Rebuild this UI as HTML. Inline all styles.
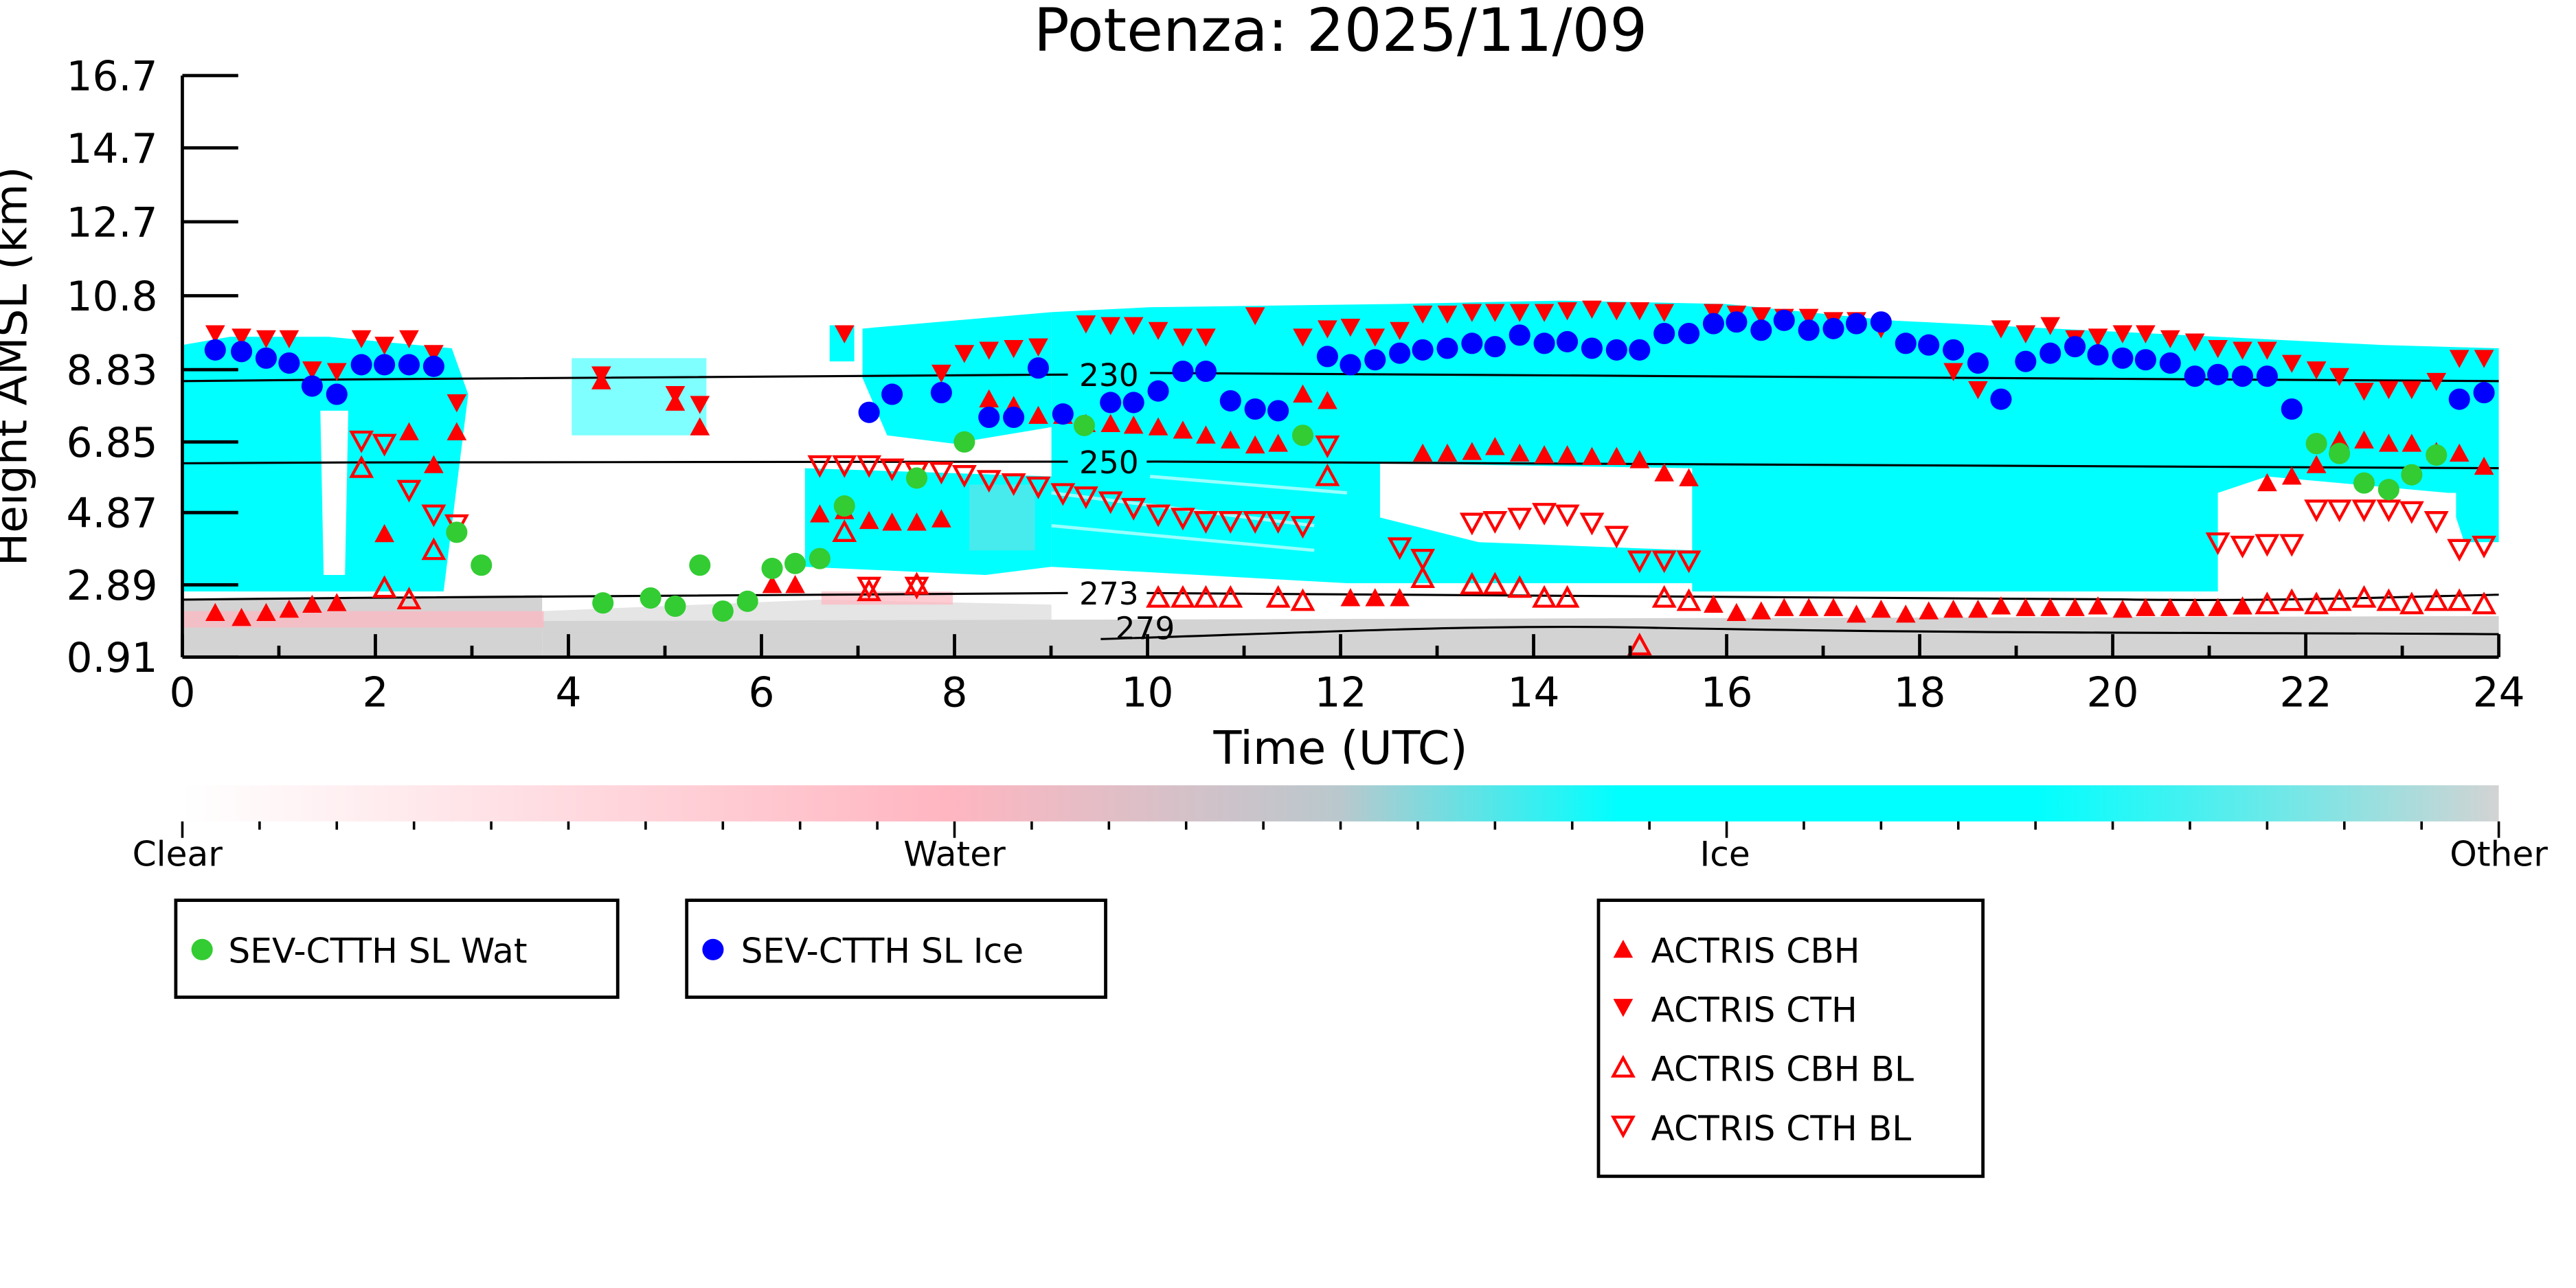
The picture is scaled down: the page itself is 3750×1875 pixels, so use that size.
<!DOCTYPE html>
<html><head><meta charset="utf-8"><style>
html,body{margin:0;padding:0;background:#fff;}
svg{display:block;}
text{font-family:"DejaVu Sans","Liberation Sans",sans-serif;}
</style></head><body>
<svg id="s" width="3750" height="1875" viewBox="0 0 1568 784" xmlns="http://www.w3.org/2000/svg">
<defs>
<linearGradient id="cb" x1="0" x2="1" y1="0" y2="0">
<stop offset="0" stop-color="#ffffff"/>
<stop offset="0.33" stop-color="#ffb6c1"/>
<stop offset="0.5" stop-color="#b9c8cd"/>
<stop offset="0.62" stop-color="#00ffff"/>
<stop offset="0.8" stop-color="#00ffff"/>
<stop offset="1" stop-color="#d3d3d3"/>
</linearGradient>
</defs>
<rect width="1568" height="784" fill="#fff"/>
<text x="816" y="31" font-size="36" text-anchor="middle">Potenza: 2025/11/09</text>
<g fill="#00ffff">
<polygon points="111,210 140,205 200,205 275,212 285,240 280,280 270,360 111,360"/>
<polygon points="490,285 640,290 640,345 600,350 490,345"/>
<polygon points="505,198 520,198 520,220 505,220"/>
<polygon points="525,200 640,190 640,260 580,270 540,265 525,230"/>
<polygon points="640,190 700,187 850,185 950,183 1050,185 1150,195 1250,200 1350,205 1450,210 1521,212 1521,330 1500,330 1490,300 1380,290 1350,300 1350,360 1030,360 1030,355 820,355 640,345"/>
<polygon points="348,218 430,218 430,265 348,265" opacity="0.5"/>
</g>
<g fill="#fff">
<polygon points="195,250 212,250 210,350 197,350"/>
<polygon points="840,282 1030,285 1030,335 900,330 840,315"/>
<polygon points="1360,300 1495,300 1495,322 1360,322"/>
</g>
<g stroke="#fff" stroke-width="2" opacity="0.6">
<line x1="640" y1="300" x2="800" y2="320"/>
<line x1="640" y1="320" x2="800" y2="335"/>
<line x1="700" y1="290" x2="820" y2="300"/>
</g>
<g fill="#d3d3d3">
<polygon points="111,365 330,362 330,400 111,400"/>
<polygon points="330,378 1521,375 1521,400 330,400"/>
<polygon points="330,372 500,365 640,368 640,385 330,385" opacity="0.6"/>
</g>
<g fill="#ffb6c1" opacity="0.7">
<rect x="111" y="372" width="220" height="10"/>
<rect x="500" y="360" width="80" height="8"/>
<rect x="590" y="295" width="40" height="40" opacity="0.4"/>
</g>
<g fill="none" stroke="#000" stroke-width="1.3">
<path d="M111,232 C300,230 500,228 650,228 M700,227 C900,226 1200,228 1521,232"/>
<path d="M111,282 C300,281 500,280 650,281 M698,281 C900,280 1100,283 1521,285"/>
<path d="M111,365 C300,363 500,361 650,361 M698,361 C900,361 1100,362 1300,365 C1400,366 1470,363 1521,362"/>
<path d="M670,389 C800,385 900,380 1000,382 C1200,386 1400,385 1521,386"/>
</g>
<g font-size="19" text-anchor="middle">
<text x="675" y="235">230</text>
<text x="675" y="288">250</text>
<text x="675" y="368">273</text>
<text x="697" y="389">279</text>
</g>
<g id="mk"></g>
<g stroke="#000" stroke-width="2" fill="none">
<line x1="111" y1="46" x2="111" y2="400"/>
<line x1="111" y1="400" x2="1521" y2="400"/>
</g>
<g id="ticks" stroke="#000" stroke-width="2"></g>
<g font-size="25" text-anchor="end">
<text x="96" y="55">16.7</text><text x="96" y="99">14.7</text><text x="96" y="144">12.7</text>
<text x="96" y="189">10.8</text><text x="96" y="234">8.83</text><text x="96" y="278">6.85</text>
<text x="96" y="321">4.87</text><text x="96" y="365">2.89</text><text x="96" y="409">0.91</text>
</g>
<g font-size="25" text-anchor="middle" id="xl"></g>
<text x="816" y="465" font-size="28" text-anchor="middle">Time (UTC)</text>
<text transform="translate(16,223) rotate(-90)" font-size="27" text-anchor="middle">Height AMSL (km)</text>
<rect x="111" y="478" width="1410" height="22" fill="url(#cb)"/>
<g id="cbt" stroke="#000" stroke-width="1.5"></g>
<g font-size="21" text-anchor="middle">
<text x="108" y="527">Clear</text><text x="581" y="527">Water</text><text x="1050" y="527">Ice</text><text x="1521" y="527">Other</text>
</g>
<g fill="none" stroke="#000" stroke-width="2">
<rect x="107" y="548" width="269" height="59"/>
<rect x="418" y="548" width="255" height="59"/>
<rect x="973" y="548" width="234" height="168"/>
</g>
<circle cx="123" cy="578" r="6.5" fill="#33cc33"/>
<circle cx="434" cy="578" r="6.5" fill="#0000ff"/>
<g font-size="21">
<text x="139" y="586">SEV-CTTH SL Wat</text>
<text x="451" y="586">SEV-CTTH SL Ice</text>
<text x="1005" y="586">ACTRIS CBH</text>
<text x="1005" y="622">ACTRIS CTH</text>
<text x="1005" y="658">ACTRIS CBH BL</text>
<text x="1005" y="694">ACTRIS CTH BL</text>
</g>
<g id="lg"></g>
</svg>
<script>
var NS="http://www.w3.org/2000/svg",mk=document.getElementById('mk');
function el(p,t,a){var e=document.createElementNS(NS,t);for(var k in a)e.setAttribute(k,a[k]);p.appendChild(e);return e;}
function up(p,x,y,f){el(p,'polygon',{points:(x-6)+','+(y+5)+' '+(x+6)+','+(y+5)+' '+x+','+(y-6),fill:f?'#ff0000':'none',stroke:'#ff0000','stroke-width':f?0:1.8});}
function dn(p,x,y,f){el(p,'polygon',{points:(x-6)+','+(y-5)+' '+(x+6)+','+(y-5)+' '+x+','+(y+6),fill:f?'#ff0000':'none',stroke:'#ff0000','stroke-width':f?0:1.8});}
function P(s){return s.split(' ').map(function(q){return q.split(',').map(Number);});}
var blue=P("131,213 147,214 162,218 176,221 190,235 205,240 220,222 234,222 249,222 264,223 529,251 543,240 573,239 602,254 617,254 632,224 647,252 676,245 690,245 705,238 720,226 734,226 749,244 764,249 778,250 808,217 822,222 837,219 852,215 866,213 881,212 896,209 910,211 925,204 940,209 954,208 969,212 984,213 998,213 1013,203 1028,203 1043,197 1057,196 1072,201 1086,195 1101,201 1116,200 1130,197 1145,196 1160,209 1174,210 1189,213 1204,221 1218,243 1233,220 1248,215 1263,211 1277,216 1292,218 1306,219 1321,221 1336,229 1350,228 1365,229 1380,229 1395,249 1497,243 1512,239");
var green=P("278,324 293,344 367,367 396,364 411,369 426,344 440,372 455,366 470,346 484,343 499,340 514,308 558,291 587,269 660,259 793,265 1410,270 1424,276 1439,294 1454,298 1468,289 1483,277");
var cbh=P("131,373 147,376 162,373 176,371 190,368 205,367 234,325 249,263 264,283 278,263 366,232 411,245 426,260 470,356 484,356 499,313 514,311 529,317 543,318 558,318 573,316 602,243 617,247 632,253 647,253 661,258 676,258 690,259 705,260 720,262 734,265 749,268 764,271 778,270 793,240 808,244 822,364 837,364 852,364 866,276 881,276 896,275 910,272 925,276 940,277 954,277 969,278 984,278 998,280 1013,288 1028,291 1043,368 1057,373 1072,372 1086,370 1101,370 1116,370 1130,374 1145,371 1160,374 1174,372 1189,371 1204,371 1218,369 1233,370 1248,370 1263,370 1277,369 1292,371 1306,370 1321,370 1336,370 1350,370 1365,369 1380,294 1395,290 1410,283 1424,268 1439,268 1454,270 1468,270 1483,275 1497,276 1512,284");
var cth=P("131,203 147,205 162,206 176,206 190,225 205,226 220,206 234,210 249,206 264,215 278,245 366,228 411,240 426,246 514,203 573,227 587,215 602,213 617,212 632,211 661,197 676,198 690,198 705,201 720,205 734,205 764,192 793,205 808,200 822,199 837,205 852,201 866,191 881,191 896,190 910,190 925,190 940,190 954,189 969,188 984,189 998,189 1013,190 1043,190 1057,191 1072,192 1086,193 1101,193 1116,195 1130,195 1145,200 1189,226 1204,237 1218,200 1233,203 1248,198 1263,206 1277,205 1292,203 1306,203 1321,206 1336,208 1350,212 1365,213 1380,213 1395,221 1410,225 1424,229 1439,238 1454,237 1468,237 1483,232 1497,218 1512,218");
var cbhb=P("234,358 249,365 264,335 220,285 514,324 529,360 558,356 866,352 808,290 896,356 910,356 925,358 940,364 954,364 705,364 720,364 734,364 749,364 778,364 793,366 998,393 1013,364 1028,366 1380,368 1395,366 1410,368 1424,366 1439,364 1454,366 1468,368 1483,366 1497,366 1512,368");
var cthb=P("220,268 234,270 249,298 264,313 278,319 499,283 514,283 529,283 543,285 558,287 573,287 587,289 602,292 617,294 632,296 647,300 661,302 676,305 690,309 705,313 720,315 734,317 749,317 764,317 778,317 793,320 808,271 852,333 866,340 896,318 910,317 925,315 940,312 954,313 969,318 984,326 998,341 1013,341 1028,341 1350,330 1365,332 1380,331 1395,331 1410,310 1424,310 1439,310 1454,310 1468,311 1483,317 1497,334 1512,332 529,357 558,357");
cbhb.forEach(function(p){up(mk,p[0],p[1],false);});
cthb.forEach(function(p){dn(mk,p[0],p[1],false);});
cbh.forEach(function(p){up(mk,p[0],p[1],true);});
cth.forEach(function(p){dn(mk,p[0],p[1],true);});
green.forEach(function(p){el(mk,'circle',{cx:p[0],cy:p[1],r:6.5,fill:'#33cc33'});});
blue.forEach(function(p){el(mk,'circle',{cx:p[0],cy:p[1],r:6.5,fill:'#0000ff'});});
var lg=document.getElementById('lg');
up(lg,988,578,true);dn(lg,988,613,true);up(lg,988,650,false);dn(lg,988,685,false);
var tk=document.getElementById('ticks'),xl=document.getElementById('xl');
[46,90,135,180,225,269,312,356,400].forEach(function(y){el(tk,'line',{x1:111,y1:y,x2:145,y2:y});});
for(var h=0;h<=24;h++){var x=111+h*1410/24;el(tk,'line',{x1:x,y1:400,x2:x,y2:h%2?393:386});if(h%2==0){var t=el(xl,'text',{x:x,y:430});t.textContent=h;}}
var cbt=document.getElementById('cbt');
for(var i=0;i<=30;i++){var x=111+i*1410/30;el(cbt,'line',{x1:x,y1:500,x2:x,y2:i%10?505:510});}
</script>
</body></html>
